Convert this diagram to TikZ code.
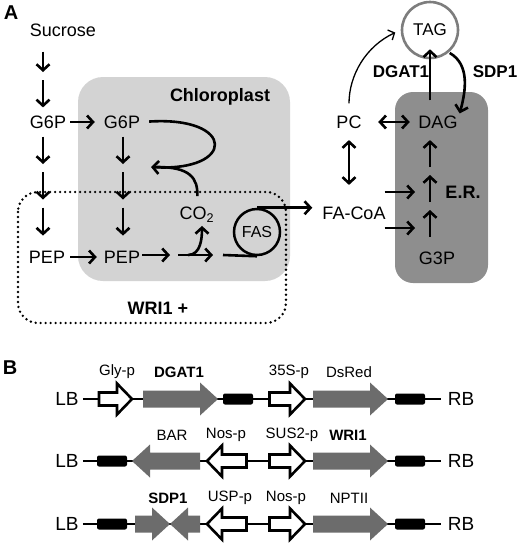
\documentclass[tikz,border=0pt]{standalone}
\usepackage{fontspec}
\setmainfont{Liberation Sans}
\usepackage{tikz}
\usetikzlibrary{positioning,arrows.meta}

\definecolor{plastid}{RGB}{211,211,211}
\definecolor{ergray}{RGB}{142,142,142}
\definecolor{genegray}{RGB}{108,108,108}
\definecolor{taggray}{RGB}{125,125,125}

% gene parts: tail x, head base x, tip x, row y
\newcommand{\gene}[4]{\fill[genegray] (#1,#4-8.5) -- (#2,#4-8.5) -- (#2,#4-16.5) -- (#3,#4) -- (#2,#4+16.5) -- (#2,#4+8.5) -- (#1,#4+8.5) -- cycle;}
\newcommand{\prom}[4]{\draw[line width=2.6pt, fill=white] (#1,#4-6.5) -- (#2,#4-6.5) -- (#2,#4-15.5) -- (#3,#4) -- (#2,#4+15.5) -- (#2,#4+6.5) -- (#1,#4+6.5) -- cycle;}
\newcommand{\term}[3]{\fill[rounded corners=2pt] (#1,#3-5.5) rectangle (#2,#3+5.5);}

\tikzset{
  metab/.style={inner sep=2pt, font=\fontsize{18}{20}\selectfont},
  bname/.style={inner sep=1pt, font=\bfseries\fontsize{18}{20}\selectfont},
  panel/.style={inner sep=0pt, font=\bfseries\fontsize{20}{22}\selectfont},
  glabel/.style={inner sep=1pt, font=\fontsize{15}{17}\selectfont},
  bnode/.style={inner sep=2pt, font=\fontsize{19}{21}\selectfont},
  arr/.style={-{Straight Barb[length=6pt,width=13pt]}, line width=2.6pt, shorten <=4pt, shorten >=4pt},
  dbl/.style={{Straight Barb[length=6pt,width=13pt]}-{Straight Barb[length=6pt,width=13pt]}, line width=2.6pt},
  thinarr/.style={-{Straight Barb[length=5pt,width=11pt]}, line width=1.3pt}
}

\begin{document}
\begin{tikzpicture}[x=1pt,y=-1pt]
\useasboundingbox (0,0) rectangle (520,547);

% compartments
\fill[plastid, rounded corners=25pt] (78,77) rectangle (290,281);
\fill[ergray, rounded corners=18pt] (395,92) rectangle (488,283);
\draw[line width=2.7pt, dash pattern=on 0pt off 5pt, line cap=round, rounded corners=20pt] (18,192) rectangle (286,323);

% panel letters
\node[panel] (pa) at (11,13) {A};
\node[panel] (pb) at (10,368) {B};

% metabolites
\node[metab] (suc) at (63,30) {Sucrose};
\node[metab] (g6pc) at (48,122) {G6P};
\node[metab] (g6pp) at (122,122) {G6P};
\node[metab] (pepc) at (47,257) {PEP};
\node[metab] (pepp) at (122,257) {PEP};
\node[metab] (co2) at (197,215) {CO\textsubscript{2}};
\node[circle, draw, line width=2.5pt, minimum size=46pt, inner sep=0pt, font=\fontsize{16}{18}\selectfont] (fas) at (257,232) {FAS};
\node[metab] (facoa) at (354,213) {FA-CoA};
\node[metab] (pc) at (349,122) {PC};
\node[metab] (dag) at (438,122) {DAG};
\node[metab] (g3p) at (437,258) {G3P};
\node[circle, draw=taggray, line width=2.6pt, minimum size=56pt, inner sep=0pt, font=\fontsize{17}{19}\selectfont] (tagc) at (430,30) {TAG};

% compartment and enzyme names
\node[bname] (chl) at (220,97) {Chloroplast};
\node[bname] (wri) at (158,308) {WRI1 +};
\node[bname] (er) at (463,192) {E.R.};
\node[bname, font=\bfseries\fontsize{17}{19}\selectfont] (dgatA) at (401,72) {DGAT1};
\node[bname, font=\bfseries\fontsize{17}{19}\selectfont] (sdpA) at (495,72) {SDP1};

% gaps between arrows
\coordinate (lc1) at (43,76);
\coordinate (lc2) at (43,168);
\coordinate (lc3) at (43,203.5);
\coordinate (mc1) at (123,168);
\coordinate (mc2) at (123,203.5);
\coordinate (k1) at (174,255);
\coordinate (k2) at (217,255);
\coordinate (kb) at (188,255);
\coordinate (k3) at (223,255);
\coordinate (ret) at (151,167);
\coordinate (e1) at (430,171);
\coordinate (e2) at (430,206);
\coordinate (fa1) at (419,192);
\coordinate (fa2) at (419,228);

% cytosol
\draw[arr, shorten <=13pt] (lc1 |- suc.south) -- (lc1);
\draw[arr, shorten >=6pt] (lc1) -- (lc1 |- g6pc.north);
\draw[arr, shorten <=6pt] (lc2 |- g6pc.south) -- (lc2);
\draw[arr] (lc2) -- (lc3);
\draw[arr, shorten >=13pt] (lc3) -- (lc3 |- pepc.north);
\draw[arr, shorten <=2pt, shorten >=7pt] (g6pc) -- (g6pp);
\draw[arr, shorten <=3pt, shorten >=5pt] (pepc) -- (pepp);

% plastid
\draw[arr, shorten <=6pt] (mc1 |- g6pp.south) -- (mc1);
\draw[arr] (mc1) -- (mc2);
\draw[arr, shorten >=13pt] (mc2) -- (mc2 |- pepp.north);
\draw[arr, shorten <=7pt, shorten >=0pt] (g6pp.east) .. controls (236,116) and (236,172) .. (ret);
\draw[line width=2.6pt, shorten <=9pt, shorten >=6pt] (co2.north) .. controls (198,178) and (190,167) .. (ret);
\draw[arr, shorten <=0pt] (pepp.east |- k1) -- (k1);
\draw[arr] (k1) -- (k2);
\draw[arr, shorten <=0pt, shorten >=1pt] (kb) to[out=0, in=-90] ([xshift=5pt]co2.south);
\draw[line width=2.6pt] (k3) -- (fas.south);
\draw[arr, shorten <=0pt, shorten >=8pt] (fas.north) -- (fas.north -| facoa.west);

% ER and TAG
\draw[dbl, shorten <=14.5pt, shorten >=6.5pt] (pc) -- (dag);
\draw[dbl, shorten <=9.5pt, shorten >=19.5pt] (pc.south) -- (pc.south |- facoa.north);
\draw[arr, shorten <=-3pt] (facoa.east |- fa1) -- (fa1);
\draw[arr, shorten <=-3pt] (facoa.east |- fa2) -- (fa2);
\draw[arr, shorten >=9.5pt] (e1) -- (e1 |- dag.south);
\draw[arr] (e2) -- (e1);
\draw[arr, shorten <=12.5pt] (e2 |- g3p.north) -- (e2);
\draw[arr, shorten <=13pt, shorten >=-10pt] (tagc.south |- dag.north) -- (tagc.south);
\draw[arr, shorten <=1pt, shorten >=0pt] (tagc.-50) to[out=-30, in=75] (dag.north east);
\draw[thinarr, shorten <=10pt, shorten >=6pt] (pc.north) to[out=90, in=205] (tagc.west);

% constructs
\node[bnode] (lb1) at (67,399) {LB};
\node[bnode] (rb1) at (461,399) {RB};
\node[bnode] (lb2) at (67,461) {LB};
\node[bnode] (rb2) at (461,461) {RB};
\node[bnode] (lb3) at (67,524) {LB};
\node[bnode] (rb3) at (461,524) {RB};
\draw[line width=1.8pt, shorten <=2pt, shorten >=5pt] (lb1) -- (rb1);
\draw[line width=1.8pt, shorten <=2pt, shorten >=5pt] (lb2) -- (rb2);
\draw[line width=1.8pt, shorten <=2pt, shorten >=5pt] (lb3) -- (rb3);

\prom{99}{117}{132}{399}
\gene{143}{200}{218}{399}
\term{223}{253}{399}
\prom{269.5}{290}{305}{399}
\gene{313}{370}{388}{399}
\term{395}{425}{399}

\term{97}{127}{461}
\gene{200}{150}{132}{461}
\prom{246.5}{222}{207}{461}
\prom{269.5}{290}{305}{461}
\gene{313}{370}{388}{461}
\term{395}{425}{461}

\term{97}{127}{524}
\gene{135}{152}{170}{524}
\gene{200}{188}{170}{524}
\prom{246.5}{222}{207}{524}
\prom{269.5}{290}{305}{524}
\gene{313}{370}{388}{524}
\term{395}{425}{524}

% construct labels
\node[glabel] (glyp) at (117,372) {Gly-p};
\node[glabel, font=\bfseries\fontsize{15}{17}\selectfont] (dgatB) at (179,372) {DGAT1};
\node[glabel] (p35s) at (289,372) {35S-p};
\node[glabel] (dsred) at (349,372) {DsRed};
\node[glabel] (bar) at (172,435) {BAR};
\node[glabel] (nosa) at (226,435) {Nos-p};
\node[glabel] (sus) at (292,435) {SUS2-p};
\node[glabel, font=\bfseries\fontsize{15}{17}\selectfont] (wriB) at (348,435) {WRI1};
\node[glabel, font=\bfseries\fontsize{15}{17}\selectfont] (sdpB) at (168,498) {SDP1};
\node[glabel] (usp) at (230,498) {USP-p};
\node[glabel] (nosb) at (286,498) {Nos-p};
\node[glabel] (npt) at (349,498) {NPTII};
\end{tikzpicture}
\end{document}
